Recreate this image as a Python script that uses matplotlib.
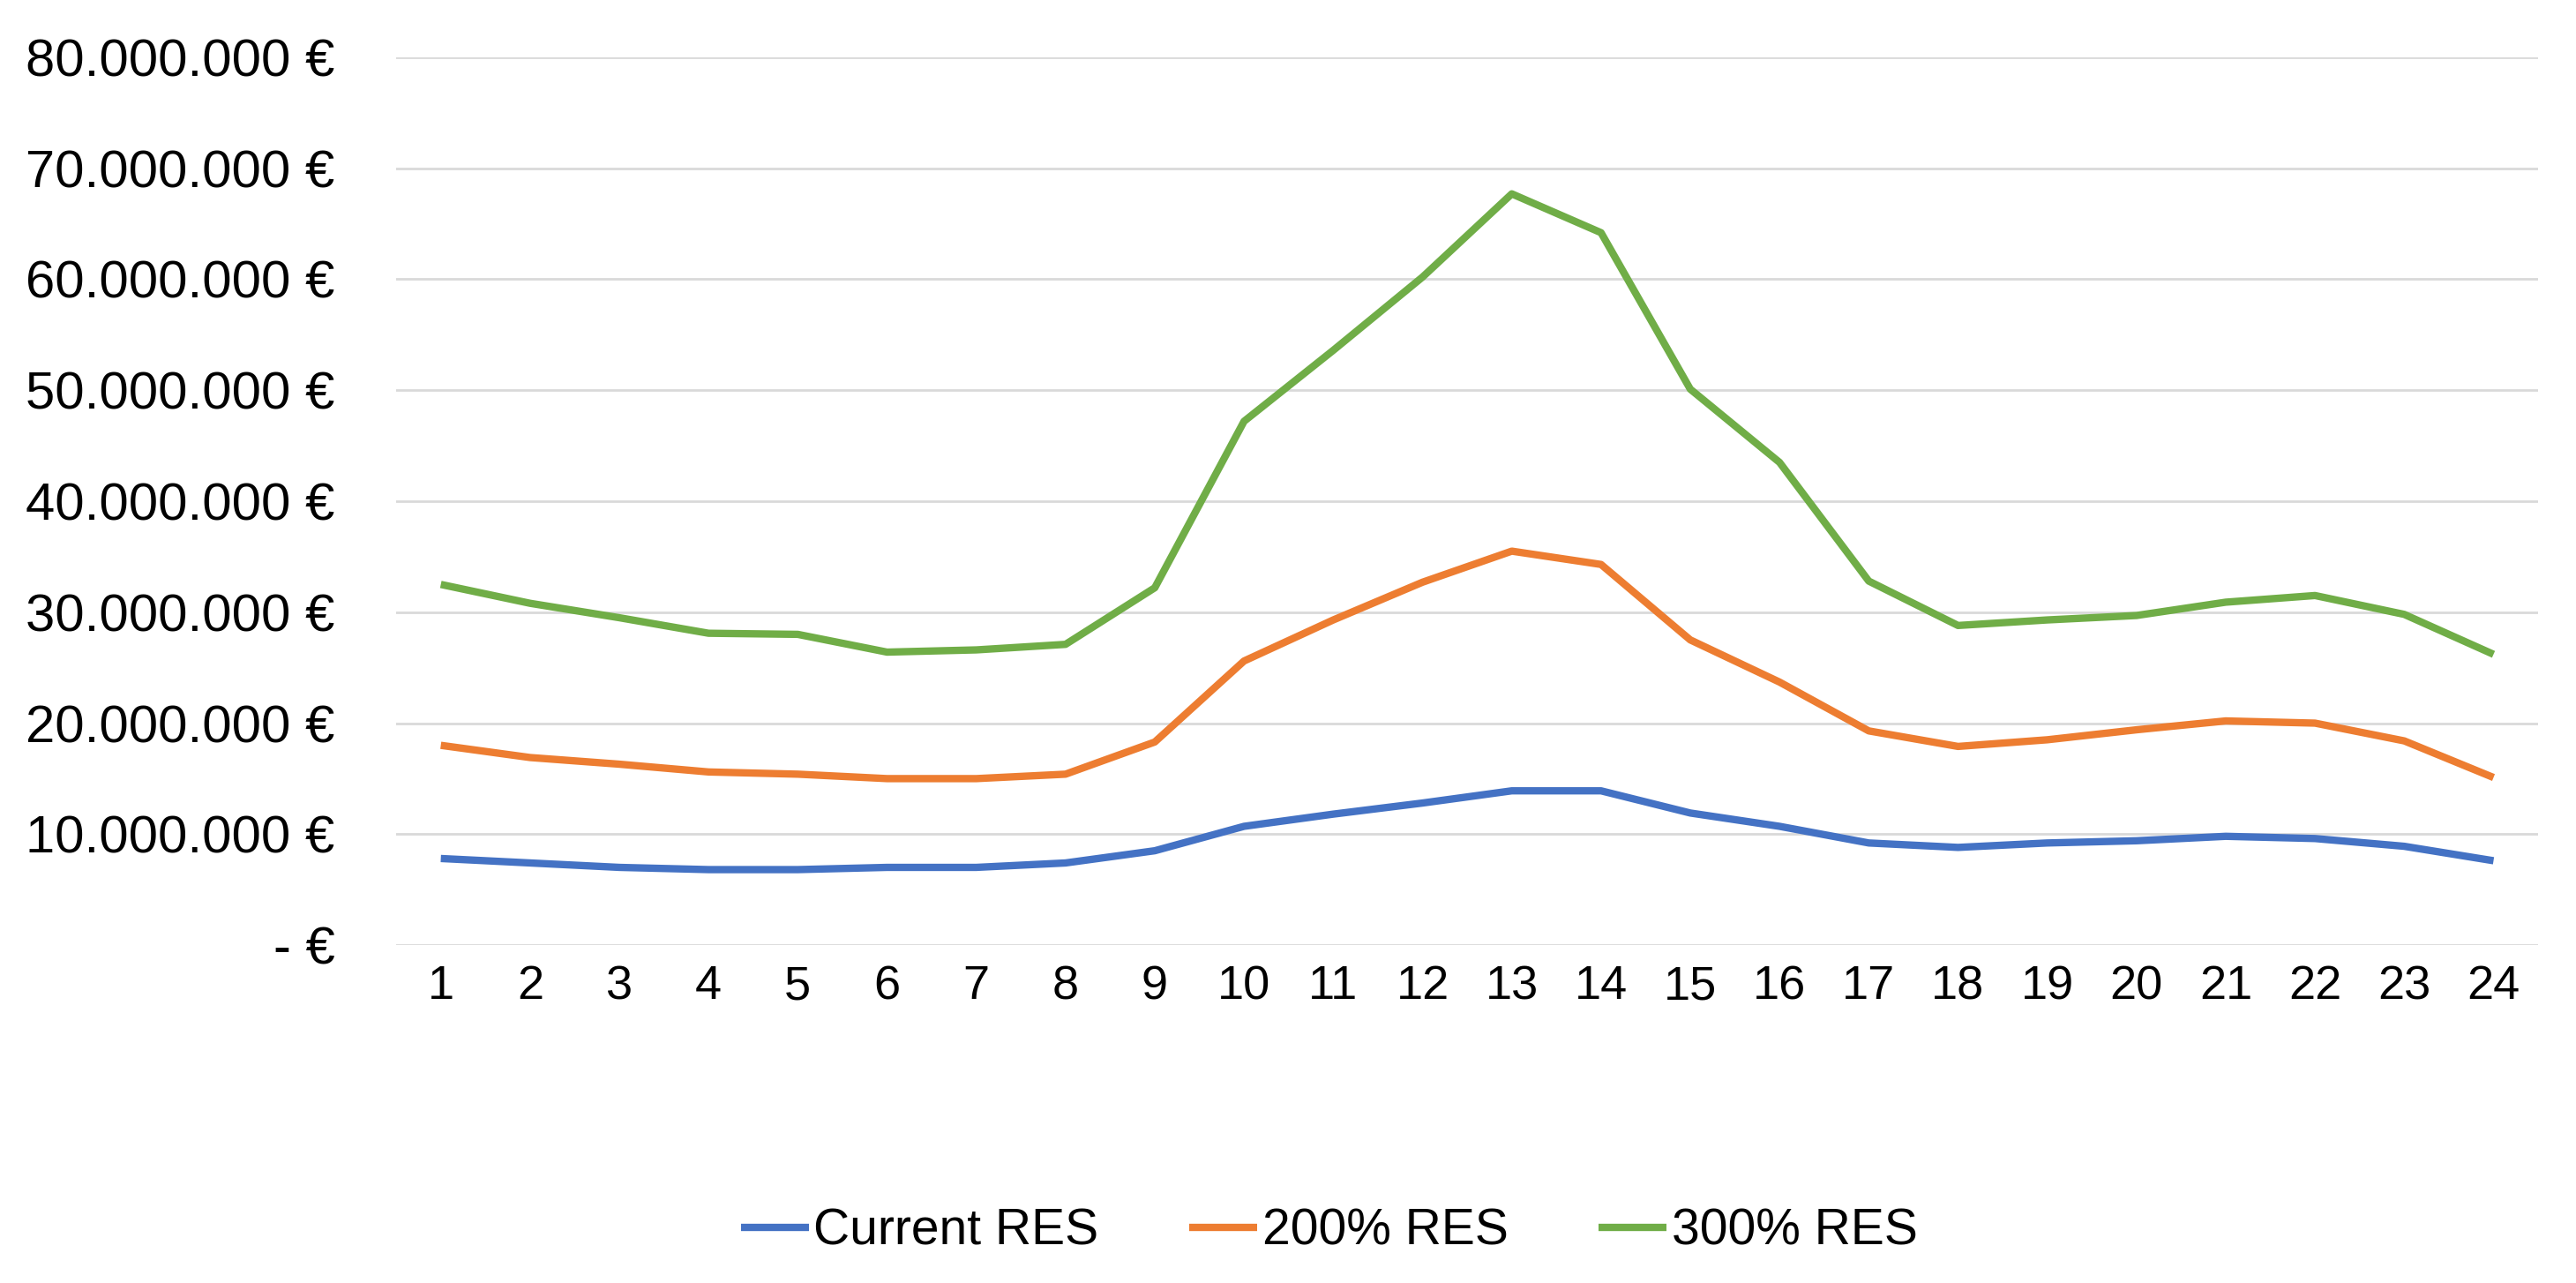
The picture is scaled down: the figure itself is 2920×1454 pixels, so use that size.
import matplotlib
matplotlib.use('Agg')
import matplotlib.pyplot as plt
from matplotlib.ticker import FuncFormatter, MultipleLocator

plt.rcParams['font.family'] = ['Liberation Sans', 'DejaVu Sans']

hours = list(range(1, 25))

# values in EUR (millions)
current_res = [7.8, 7.4, 7.0, 6.8, 6.8, 7.0, 7.0, 7.4, 8.5, 10.7, 11.8, 12.8,
               13.9, 13.9, 11.9, 10.7, 9.2, 8.8, 9.2, 9.4, 9.8, 9.6, 8.9, 7.6]
res_200 = [18.0, 16.9, 16.3, 15.6, 15.4, 15.0, 15.0, 15.4, 18.3, 25.6, 29.3, 32.7,
           35.5, 34.3, 27.5, 23.7, 19.3, 17.9, 18.5, 19.4, 20.2, 20.0, 18.4, 15.1]
res_300 = [32.5, 30.8, 29.5, 28.1, 28.0, 26.4, 26.6, 27.1, 32.2, 47.2, 53.6, 60.2,
           67.7, 64.2, 50.1, 43.5, 32.8, 28.8, 29.3, 29.7, 30.9, 31.5, 29.8, 26.2]

series = [('Current RES', current_res, '#4472C4'),
          ('200% RES', res_200, '#ED7D31'),
          ('300% RES', res_300, '#70AD47')]

def euro_fmt(v, pos):
    if abs(v) < 1:
        return '- €'
    return f'{int(round(v)):,} €'.replace(',', '.')

fig = plt.figure(figsize=(29.2, 14.54), dpi=100)
ax = fig.add_axes([0.1538, 0.2634, 0.8315, 0.6919])

for name, vals, col in series:
    ax.plot(hours, [v * 1e6 for v in vals], color=col, lw=6, label=name,
            solid_joinstyle='round', solid_capstyle='butt', zorder=3)

ax.set_xlim(0.5, 24.5)
ax.set_ylim(0, 80e6)
ax.set_xticks(hours)
ax.yaxis.set_major_locator(MultipleLocator(10e6))
ax.yaxis.set_major_formatter(FuncFormatter(euro_fmt))

ax.grid(axis='y', color='#D9D9D9', lw=2)
ax.set_axisbelow(True)
for sp in ax.spines.values():
    sp.set_visible(False)
ax.tick_params(axis='y', length=0, pad=50, labelsize=43)
ax.tick_params(axis='x', length=0, pad=16, labelsize=39)

fig.legend(loc='center', bbox_to_anchor=(0.516, 0.04), ncol=3, frameon=False,
           fontsize=41, handlelength=1.35, handletextpad=0.1, columnspacing=1.8)

fig.savefig('out.png', dpi=100, facecolor='white')
